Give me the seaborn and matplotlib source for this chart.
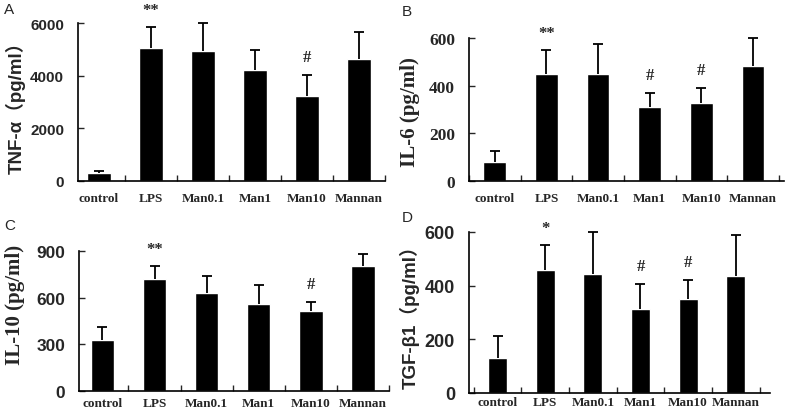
import numpy as np
import pandas as pd
import matplotlib
matplotlib.use("Agg")
import matplotlib.pyplot as plt
from matplotlib.ticker import MultipleLocator, FixedLocator
import seaborn as sns

# dados
grupos = ["control", "LPS", "Man0.1", "Man1", "Man10", "Mannan"]

tnf = [290, 5050, 4920, 4220, 3210, 4640]
tnf_err = [80, 800, 1090, 760, 800, 1000]

il6 = [78, 449, 449, 312, 327, 481]
il6_err = [46, 101, 125, 56, 65, 118]

il10 = [331, 719, 633, 559, 516, 806]
il10_err = [83, 87, 105, 123, 56, 77]

tgf = [130, 459, 444, 312, 349, 437]
tgf_err = [83, 92, 157, 95, 71, 153]

# marcas de significância
sig_tnf = ["", "**", "", "", "#", ""]
sig_il6 = ["", "**", "", "#", "#", ""]
sig_il10 = ["", "**", "", "", "#", ""]
sig_tgf = ["", "*", "", "#", "#", ""]

sns.set_style("white")
plt.rcParams['font.family'] = ['Liberation Sans', 'Noto Sans CJK SC', 'DejaVu Sans']

fig = plt.figure(figsize=(7.87, 4.14), dpi=100)
W, H = 787, 414


def px_axes(l, r, t, b):
    return fig.add_axes([l / W, 1 - b / H, (r - l) / W, (b - t) / H])


paineis = [
    # letra, valores, erros, sig, ylabel, fonte label, fonte ticks, tam ticks,
    # ymax, passo, caixa, xlim, pos letra, label x, label y, pad x, largura
    ("A", tnf, tnf_err, sig_tnf, "TNF-α（pg/ml）", "sans", "sans", 11, 6000, 2000,
     (78, 385, 24, 182), (-0.4, 5.5), (4, 10), 16, 103, 8, 0.45),
    ("B", il6, il6_err, sig_il6, "IL-6 (pg/ml)", "serif", "serif", 12.5, 600, 200,
     (469, 784, 39, 182), (-0.5, 5.6), (402, 12), 410, 112, 8, 0.44),
    ("C", il10, il10_err, sig_il10, "IL-10 (pg/ml)", "serif", "sans", 12.5, 900, 300,
     (79, 389, 252, 392), (-0.45, 5.5), (4, 226), 15, 305, 4.5, 0.45),
    ("D", tgf, tgf_err, sig_tgf, "TGF-β1（pg/ml）", "sans", "sans", 13, 600, 200,
     (469, 770, 233, 394), (-0.6, 5.72), (402, 218), 410, 313, 2.5, 0.40),
]

for (letra, vals, errs, sig, ylab, flab, ftick, tstick, ymax, passo, caixa, xl,
     pl, lx, ly, padx, larg) in paineis:
    l, r, t, b = caixa
    ax = px_axes(l, r, t, b)
    df = pd.DataFrame({"grupo": grupos, "valor": vals})
    sns.barplot(data=df, x="grupo", y="valor", color="black", width=larg,
                saturation=1, ax=ax)
    pos = np.arange(len(grupos))
    _, caps, _ = ax.errorbar(pos, vals, yerr=[np.zeros(len(errs)), errs],
                             fmt="none", ecolor="black", elinewidth=1.3,
                             capsize=3.5, capthick=1.3, clip_on=False)
    caps[0].set_visible(False)  # só a barra de erro superior
    for p, v, e, s in zip(pos, vals, errs, sig):
        if s:
            ax.annotate(s, (p, v + e), xytext=(0, 12 if s != "#" else 13),
                        textcoords="offset points", ha="center", va="center",
                        fontsize=12, fontweight="bold",
                        family="Liberation Serif", annotation_clip=False)

    ax.set_xlim(*xl)
    ax.set_ylim(0, ymax)
    ax.yaxis.set_major_locator(MultipleLocator(passo))
    sns.despine(ax=ax)
    for sp in ["left", "bottom"]:
        ax.spines[sp].set_linewidth(1.2)
        ax.spines[sp].set_color("black")

    # ticks do eixo x nos limites entre categorias
    ax.xaxis.set_minor_locator(FixedLocator(np.arange(-0.5, 6, 1.0)))
    ax.tick_params(axis="x", which="major", length=0, pad=padx)
    ax.tick_params(axis="x", which="minor", direction="in", length=4,
                   width=1, bottom=True)
    ax.tick_params(axis="y", direction="in", length=4, width=1, left=True, pad=10)

    for lb in ax.get_xticklabels():
        lb.set_family("Liberation Serif")
        lb.set_fontweight("bold")
        lb.set_fontsize(9.5)
    for lb in ax.get_yticklabels():
        lb.set_family("Liberation Serif" if ftick == "serif" else "Liberation Sans")
        lb.set_fontweight("bold")
        lb.set_fontsize(tstick)

    ax.set_xlabel("")
    ax.set_ylabel("")
    if flab == "serif":
        fam = ["Liberation Serif", "DejaVu Serif"]
        fs = 15
    else:
        fam = ["Liberation Sans", "Noto Sans CJK SC", "DejaVu Sans"]
        fs = 13.5
    fig.text(lx / W, 1 - ly / H, ylab, rotation=90, ha="center", va="center",
             fontsize=fs, fontweight="bold", family=fam)
    fig.text(pl[0] / W, 1 - pl[1] / H, letra, ha="left", va="center",
             fontsize=11, family="Liberation Sans")

fig.savefig("out.png", dpi=100, facecolor="white")
